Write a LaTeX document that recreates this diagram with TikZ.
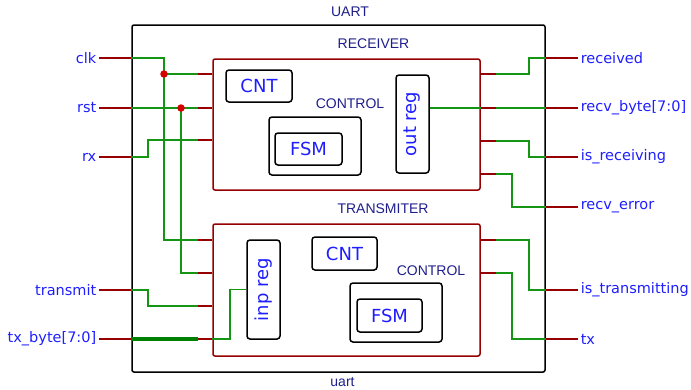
\documentclass[tikz,border=0pt]{standalone}
\usepackage{fontspec}
\setmainfont{DejaVu Sans}
\newfontfamily\titlefont{Liberation Sans}
\usepackage{xcolor}
\usetikzlibrary{positioning}

\definecolor{wirered}{RGB}{150,0,0}
\definecolor{wiregreen}{RGB}{20,150,20}
\definecolor{busgreen}{RGB}{0,128,0}
\definecolor{pinblue}{RGB}{30,30,255}
\definecolor{titleblue}{RGB}{30,30,140}
\definecolor{dotred}{RGB}{215,0,0}

\begin{document}
\begin{tikzpicture}[
  x=1pt, y=-1pt,
  line width=1.5pt,
  top/.style={draw=black, rectangle, rounded corners=2pt, line width=1.5pt},
  module/.style={draw=wirered, rectangle, rounded corners=2pt, line width=1.5pt},
  blk/.style={draw=black, rectangle, rounded corners=3pt, line width=1.5pt,
              inner sep=0pt, text=pinblue, font=\fontsize{18}{20}\selectfont},
  title/.style={text=titleblue, inner sep=0pt, font=\titlefont\fontsize{14}{16}\selectfont},
  pin/.style={text=pinblue, inner sep=2pt, font=\fontsize{14.5}{16}\selectfont},
  stub/.style={draw=wirered, line width=1.5pt},
  wire/.style={draw=wiregreen, line width=1.5pt},
  bus/.style={draw=busgreen, line width=4pt},
  joint/.style={circle, fill=dotred, inner sep=0pt, minimum size=7.5pt},
]
\useasboundingbox (0,0) rectangle (691,389);

%% Top level
\node[top, minimum width=413, minimum height=347] at (338.5,198.5) (uart) {};
\node[title] at (350,12)  (utitle) {UART};
\node[title] at (342.5,382) (uname) {uart};

%% Receiver
\node[module, minimum width=267, minimum height=131] at (346.5,124.5) (rcv) {};
\node[title] at (373.5,44) (rcvtitle) {RECEIVER};
\node[blk, minimum width=66, minimum height=32] at (259,86) (rcnt) {CNT};
\node[title] at (350,104) (rctl) {CONTROL};
\node[draw, rectangle, rounded corners=3pt, line width=1.5pt,
      minimum width=92, minimum height=58] at (315,146) (rfsmbox) {};
\node[blk, minimum width=67, minimum height=32] at (308.5,149) (rfsm) {FSM};
\node[blk, rotate=90, minimum width=98, minimum height=33] at (412.5,124) (outreg) {out reg};

%% Transmitter
\node[module, minimum width=267, minimum height=132] at (346.5,290) (trn) {};
\node[title] at (383,209) (trntitle) {TRANSMITER};
\node[blk, rotate=90, minimum width=99, minimum height=33] at (263.5,289.5) (inpreg) {inp reg};
\node[blk, minimum width=65, minimum height=33] at (344.5,253.5) (tcnt) {CNT};
\node[title] at (431,271) (tctl) {CONTROL};
\node[draw, rectangle, rounded corners=3pt, line width=1.5pt,
      minimum width=92, minimum height=59] at (396,312.5) (tfsmbox) {};
\node[blk, minimum width=65, minimum height=33] at (389.5,315.5) (tfsm) {FSM};

%% Input pins
\node[pin, anchor=east] at (99,58)  (clk)   {clk};
\node[pin, anchor=east] at (99,108) (rst)   {rst};
\node[pin, anchor=east] at (99,157) (rx)    {rx};
\node[pin, anchor=east] at (99,290) (trm)   {transmit};
\node[pin, anchor=east] at (99,339) (txb)   {tx\_byte[7:0]};

%% Output pins
\node[pin, anchor=west] at (578,58)  (recd)  {received};
\node[pin, anchor=west] at (578,108) (rbyte) {recv\_byte[7:0]};
\node[pin, anchor=west] at (578,157) (isrx)  {is\_receiving};
\node[pin, anchor=west] at (578,207) (rerr)  {recv\_error};
\node[pin, anchor=west] at (578,290) (istx)  {is\_transmitting};
\node[pin, anchor=west] at (578,339) (tx)    {tx};

%% Module ports
\coordinate (rclk) at (198,74);
\coordinate (rrst) at (198,108);
\coordinate (rrx)  at (198,140);
\coordinate (tclk) at (198,240);
\coordinate (trst) at (198,273);
\coordinate (ttrm) at (198,306);
\coordinate (ttxb) at (198,339);
\coordinate (rrecd)  at (496,74);
\coordinate (rbyteo) at (496,108);
\coordinate (risrx)  at (496,141);
\coordinate (rrerr)  at (496,174);
\coordinate (tistx)  at (496,240);
\coordinate (ttx)    at (496,273);

%% Wiring inside
\draw[wire] (clk.east -| uart.west) -| (164,240) -- (tclk);
\draw[wire] (164,74) -- (rclk);
\draw[wire] (rst.east -| uart.west) -- (rrst);
\draw[wire] (181,108) |- (trst);
\draw[wire] (rx.east -| uart.west) -- (148,157) |- (rrx);
\draw[wire] (trm.east -| uart.west) -- (148,290) |- (ttrm);
\draw[bus]  (txb.east -| uart.west) -- (ttxb);
\draw[wire] (ttxb -| trn.west) -- (230,339) |- (inpreg.north);
\draw[wire] (rrecd) -- (529,74) |- (recd.west -| uart.east);
\draw[wire] (outreg.south |- rbyteo) -- (rbyte.west -| uart.east);
\draw[wire] (risrx) -- (529,141) |- (isrx.west -| uart.east);
\draw[wire] (rrerr) -- (512,174) |- (rerr.west -| uart.east);
\draw[wire] (tistx) -- (529,240) |- (istx.west -| uart.east);
\draw[wire] (ttx) -- (512,273) |- (tx.west -| uart.east);
\node[joint] at (164,74)  (j1) {};
\node[joint] at (181,108) (j2) {};

%% Stubs
\foreach \p in {clk, rst, rx, trm, txb}
  \draw[stub] (\p.east) -- (\p.east -| uart.west);
\foreach \p in {recd, rbyte, isrx, rerr, istx, tx}
  \draw[stub] (\p.west) -- (\p.west -| uart.east);
\foreach \p in {rclk, rrst, rrx, tclk, trst, ttrm, ttxb}
  \draw[stub] (\p) -- (\p -| rcv.west);
\foreach \p in {rrecd, rbyteo, risrx, rrerr, tistx, ttx}
  \draw[stub] (\p) -- (\p -| rcv.east);
\end{tikzpicture}
\end{document}
